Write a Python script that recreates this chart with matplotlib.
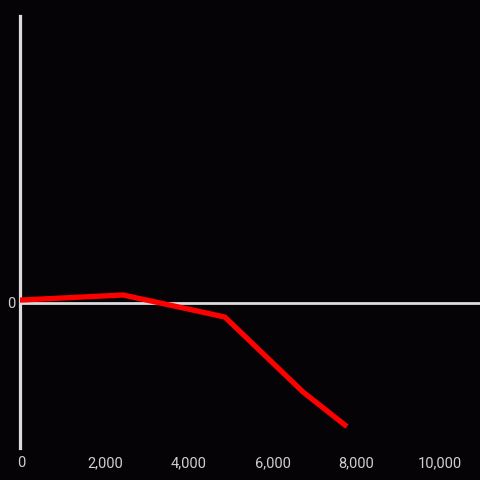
import matplotlib

matplotlib.use("Agg")
import matplotlib.pyplot as plt
from matplotlib.ticker import FuncFormatter

# data
x_vals = [0, 2430, 4860, 6730, 7730]
y_vals = [30, 80, -140, -890, -1220]
x_ticks = [0, 2000, 4000, 6000, 8000, 10000]
y_ticks = [0]

BG = "#060307"
AXIS = "#dcdcdc"
TEXT = "#cfcfcf"

plt.rcParams["font.family"] = ["Roboto", "DejaVu Sans"]

fig = plt.figure(figsize=(4.8, 4.8), dpi=100, facecolor=BG)
ax = fig.add_axes([20 / 480, 32 / 480, 460 / 480, 432 / 480])
ax.set_facecolor(BG)

ax.set_xlim(-36, 10960)
ax.set_ylim(-1450, 2870)

ax.axhline(0, color=AXIS, lw=2.0, zorder=1)
ax.plot(x_vals, y_vals, color="#ff0000", lw=3.8, zorder=3, solid_joinstyle="miter")

for side in ("top", "right", "bottom"):
    ax.spines[side].set_visible(False)
ax.spines["left"].set_color(AXIS)
ax.spines["left"].set_linewidth(2.3)

ax.set_xticks(x_ticks)
ax.set_yticks(y_ticks)
ax.xaxis.set_major_formatter(FuncFormatter(lambda v, _: f"{int(v):,}"))
ax.tick_params(axis="both", length=0, colors=TEXT, labelsize=10.5)
ax.tick_params(axis="x", pad=6)
ax.tick_params(axis="y", pad=3)

fig.savefig("out.png", dpi=100, facecolor=BG)
